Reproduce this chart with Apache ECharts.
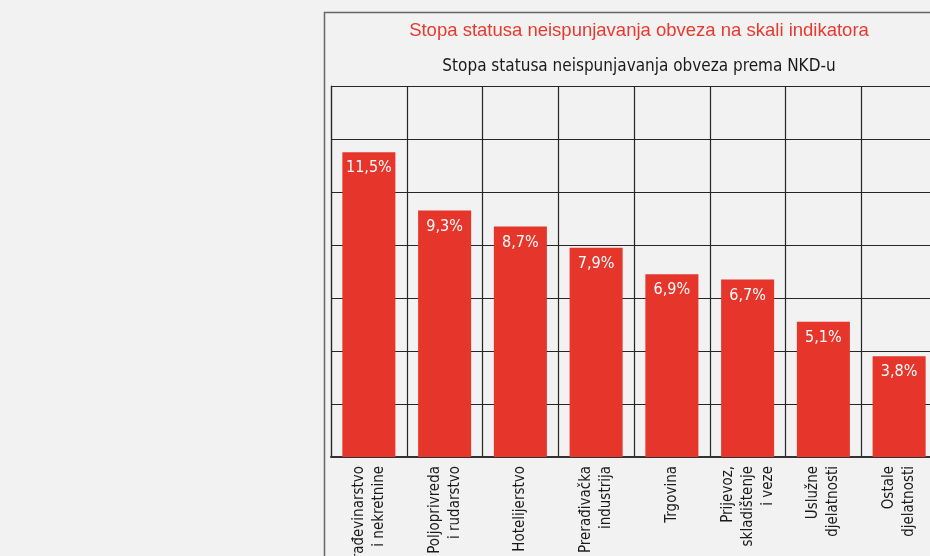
<!DOCTYPE html>
<html>
<head>
<meta charset="utf-8">
<script src="https://cdn.jsdelivr.net/npm/echarts@6/dist/echarts.min.js"></script>
<style>
  html, body { margin: 0; padding: 0; background: #f2f2f2; }
  #chart { width: 930px; height: 556px; }
</style>
</head>
<body>
<div id="chart"></div>
<script>
// Default rate by NKD sector (percent)
const categories = [
  'Građevinarstvo\ni nekretnine',
  'Poljoprivreda\ni rudarstvo',
  'Hotelijerstvo',
  'Prerađivačka\nindustrija',
  'Trgovina',
  'Prijevoz,\nskladištenje\ni veze',
  'Uslužne\ndjelatnosti',
  'Ostale\ndjelatnosti'
];
const values = [11.5, 9.3, 8.7, 7.9, 6.9, 6.7, 5.1, 3.8];

const mainTitle = 'Stopa statusa neispunjavanja obveza na skali indikatora';
const subTitle = 'Stopa statusa neispunjavanja obveza prema NKD-u';

const narrow = '"Liberation Sans Narrow", "DejaVu Sans Condensed", "Liberation Sans", sans-serif';
const gridLine = '#262626';

const chart = echarts.init(document.getElementById('chart'));
chart.setOption({
  backgroundColor: '#f2f2f2',
  animation: false,
  title: [
    {
      text: mainTitle,
      left: 634, top: 16, textAlign: 'center',
      textStyle: { color: '#e8392f', fontSize: 18.5, fontWeight: 'normal', fontFamily: '"Liberation Sans", Arial, sans-serif' }
    },
    {
      text: subTitle,
      left: 634, top: 53, textAlign: 'center',
      textStyle: { color: '#1a1a1a', fontSize: 17, fontWeight: 'normal', fontFamily: narrow }
    }
  ],
  graphic: [
    {
      type: 'rect', silent: true, z: -1,
      shape: { x: 324.5, y: 12.5, width: 700, height: 600 },
      style: { fill: 'none', stroke: '#666666', lineWidth: 1.5 }
    }
  ],
  grid: { left: 331, right: -7, top: 86, bottom: 99, outerBoundsMode: 'none', containLabel: false },
  xAxis: {
    type: 'category',
    data: categories,
    axisLine: { show: true, lineStyle: { color: '#333', width: 2 } },
    axisTick: { show: false },
    splitLine: { show: true, lineStyle: { color: gridLine, width: 1.2 } },
    axisLabel: {
      rotate: 90, interval: 0, margin: 9,
      color: '#1a1a1a', fontSize: 15, lineHeight: 20, fontFamily: narrow
    }
  },
  yAxis: {
    type: 'value', min: 0, max: 14, interval: 2,
    axisLine: { show: true, lineStyle: { color: gridLine, width: 1.2 } },
    axisTick: { show: false },
    axisLabel: { show: false },
    splitLine: { show: true, lineStyle: { color: gridLine, width: 1.2 } }
  },
  series: [{
    type: 'bar',
    data: values,
    barWidth: '70%',
    itemStyle: { color: '#e6352a' },
    label: {
      show: true, position: 'insideTop', distance: 8,
      color: '#ffffff', fontSize: 16, fontFamily: narrow,
      formatter: p => String(p.value).replace('.', ',') + '%'
    }
  }]
});
</script>
</body>
</html>
